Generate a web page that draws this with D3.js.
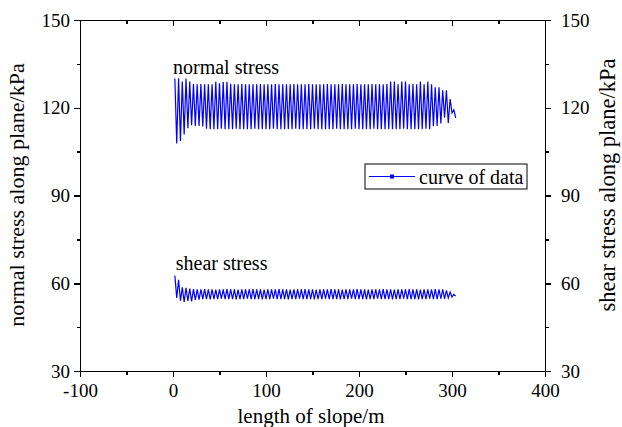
<!DOCTYPE html>
<html>
<head>
<meta charset="utf-8">
<script src="https://cdn.jsdelivr.net/npm/d3@7"></script>
<style>
  html, body { margin: 0; padding: 0; background: #fff; }
  svg { display: block; font-family: "Liberation Serif", "Times New Roman", serif; }
  .axis path, .axis line { stroke: #000; stroke-width: 1.5; shape-rendering: crispEdges; }
  .axis text { font-size: 19px; fill: #000; font-family: "Liberation Serif", serif; }
</style>
</head>
<body>
<svg id="chart" width="622" height="427"></svg>
<script>
// Sampling positions along the slope (m)
const slopeX = d3.range(2, 305, 2);

// Normal stress along the plane (kPa), one value per position
const normalStress = [
  130.0,107.8, 130.1,108.6, 129.0,110.9, 130.0,113.0, 129.0,114.0, 128.1,113.8, 128.0,113.8, 128.1,113.6, 128.0,112.8, 128.0,112.7,
  128.0,112.7, 128.9,112.7, 128.4,112.8, 128.9,112.7, 128.9,112.7, 128.2,112.7, 128.0,112.8, 128.0,112.7, 128.1,112.7, 128.0,112.7,
  128.0,112.7, 128.0,112.8, 128.0,112.7, 128.1,112.7, 128.0,112.7, 128.0,112.7, 128.0,112.8, 128.1,112.7, 128.0,112.7, 128.0,112.7,
  128.0,112.7, 128.0,112.7, 128.1,112.8, 128.0,112.7, 128.0,112.7, 128.0,112.7, 128.1,112.7, 128.0,112.8, 128.0,112.7, 128.0,112.7,
  128.0,112.7, 128.1,112.7, 128.0,112.7, 128.0,112.8, 128.0,112.7, 128.1,112.7, 128.0,112.7, 128.0,112.7, 128.0,112.8, 128.1,112.7,
  128.0,112.7, 128.0,112.7, 128.0,112.7, 128.1,112.8, 128.0,112.7, 128.0,112.7, 128.0,112.7, 128.1,112.7,
  129.0,112.7, 129.0,112.7, 128.0,112.7, 129.0,112.8, 129.0,112.7, 128.0,112.7, 128.1,112.7, 128.0,112.7, 129.0,112.7, 128.0,112.8, 129.0,112.7,
  128.0,113.7, 127.0,113.8, 127.0,114.6, 126.0,116.6, 126.0,114.8, 123.0,118.2, 119.3,116.5
];

// Shear stress along the plane (kPa)
const shearStress = [
  62.6,55.0, 61.2,54.0, 58.6,53.6, 58.4,54.0, 58.2,53.8, 58.0,54.3, 57.9,54.4, 57.9,54.6, 58.0,54.6, 57.9,54.5,
  57.9,54.6, 57.8,54.6, 57.9,54.7, 57.9,54.6, 58.0,54.6, 57.9,54.6, 57.9,54.5, 57.8,54.6, 57.9,54.6, 57.9,54.7,
  57.9,54.6, 58.0,54.6, 57.9,54.6, 57.9,54.5, 57.8,54.6, 57.9,54.6, 57.9,54.7, 57.9,54.6, 58.0,54.6, 57.9,54.6,
  57.9,54.5, 57.8,54.6, 57.9,54.6, 57.9,54.7, 57.9,54.6, 58.0,54.6, 57.9,54.6, 57.9,54.5, 57.8,54.6, 57.9,54.6,
  57.9,54.7, 57.9,54.6, 58.0,54.6, 57.9,54.6, 57.9,54.5, 57.8,54.6, 57.9,54.6, 57.9,54.7, 57.9,54.6, 58.0,54.6,
  57.9,54.6, 57.9,54.5, 57.8,54.6, 57.9,54.6, 57.9,54.7, 57.9,54.6, 58.0,54.6, 57.9,54.6, 57.9,54.5, 57.8,54.6,
  57.9,54.6, 57.9,54.7, 57.9,54.6, 58.0,54.6, 57.9,54.6, 57.9,54.5, 57.8,54.6, 57.9,54.6, 57.9,54.7, 57.9,54.6,
  58.0,54.6, 57.9,54.7, 57.9,54.7, 57.6,55.0, 57.0,55.3, 56.2,55.6
];

// Axis ticks
const xMajorTicks = [-100, 0, 100, 200, 300, 400];
const xMinorTicks = [-50, 50, 150, 250, 350];
const yMajorTicks = [30, 60, 90, 120, 150];
const yMinorTicks = [45, 75, 105, 135];

const seriesLabels = ["normal stress", "shear stress"];
const legendLabel = "curve of data";

const svg = d3.select("#chart");
const m = { left: 80, right: 545, top: 20, bottom: 371 };

const x = d3.scaleLinear().domain([-100, 400]).range([m.left, m.right]);
const yL = d3.scaleLinear().domain([30, 150]).range([m.bottom, m.top]);
const yR = d3.scaleLinear().domain([30, 150]).range([m.bottom, m.top]);

const blue = "#0000ff";
// plain hyphen for negative tick values
const fmt = d => String(d);

// Curves
const line = d3.line().x(d => x(d[0])).y(d => d[1]);
const normalPts = slopeX.map((v, i) => [v, yL(normalStress[i])]);
const shearPts = slopeX.map((v, i) => [v, yR(shearStress[i])]);

svg.append("path").datum(normalPts).attr("d", line)
  .attr("fill", "none").attr("stroke", blue).attr("stroke-width", 1.2);
svg.append("path").datum(shearPts).attr("d", line)
  .attr("fill", "none").attr("stroke", blue).attr("stroke-width", 1.2);

// Axes: bottom and left/right ticks point outward, top ticks point into the plot
const gB = svg.append("g").attr("class", "axis").attr("transform", `translate(0,${m.bottom})`);
gB.call(d3.axisBottom(x).tickValues(xMajorTicks).tickSize(6).tickPadding(7).tickFormat(fmt));
gB.append("g").call(d3.axisBottom(x).tickValues(xMinorTicks).tickSize(3.5).tickFormat(""))
  .select(".domain").remove();

const gT = svg.append("g").attr("class", "axis").attr("transform", `translate(0,${m.top})`);
gT.call(d3.axisTop(x).tickValues(xMajorTicks).tickSize(-6).tickFormat(""));
gT.append("g").call(d3.axisTop(x).tickValues(xMinorTicks).tickSize(-3.5).tickFormat(""))
  .select(".domain").remove();

const gL = svg.append("g").attr("class", "axis").attr("transform", `translate(${m.left},0)`);
gL.call(d3.axisLeft(yL).tickValues(yMajorTicks).tickSize(6).tickPadding(4).tickFormat(fmt));
gL.append("g").call(d3.axisLeft(yL).tickValues(yMinorTicks).tickSize(3.5).tickFormat(""))
  .select(".domain").remove();

const gR = svg.append("g").attr("class", "axis").attr("transform", `translate(${m.right},0)`);
gR.call(d3.axisRight(yR).tickValues(yMajorTicks).tickSize(6).tickPadding(10).tickFormat(fmt));
gR.append("g").call(d3.axisRight(yR).tickValues(yMinorTicks).tickSize(3.5).tickFormat(""))
  .select(".domain").remove();

svg.selectAll(".axis .tick line").attr("stroke-width", 1.5);

// Axis titles
svg.append("text").attr("x", 311).attr("y", 423)
  .attr("text-anchor", "middle").attr("font-size", 21).text("length of slope/m");
svg.append("text").attr("transform", "translate(24,195) rotate(-90)")
  .attr("text-anchor", "middle").attr("font-size", 22).text("normal stress along plane/kPa");
svg.append("text").attr("transform", "translate(615,185) rotate(-90)")
  .attr("text-anchor", "middle").attr("font-size", 22.5).text("shear stress along plane/kPa");

// Series annotations
svg.append("text").attr("x", x(0)).attr("y", yL(131.7)).attr("font-size", 20).text(seriesLabels[0]);
svg.append("text").attr("x", x(3)).attr("y", yR(64.5)).attr("font-size", 20).text(seriesLabels[1]);

// Legend
const lg = svg.append("g").attr("transform", "translate(365,164)");
lg.append("rect").attr("width", 162).attr("height", 25)
  .attr("fill", "#fff").attr("stroke", "#000").attr("stroke-width", 1);
lg.append("line").attr("x1", 4).attr("x2", 50).attr("y1", 12.5).attr("y2", 12.5)
  .attr("stroke", blue).attr("stroke-width", 1.2);
lg.append("rect").attr("x", 25).attr("y", 10.5).attr("width", 4).attr("height", 4).attr("fill", blue);
lg.append("text").attr("x", 54).attr("y", 19.5).attr("font-size", 20).text(legendLabel);
</script>
</body>
</html>
